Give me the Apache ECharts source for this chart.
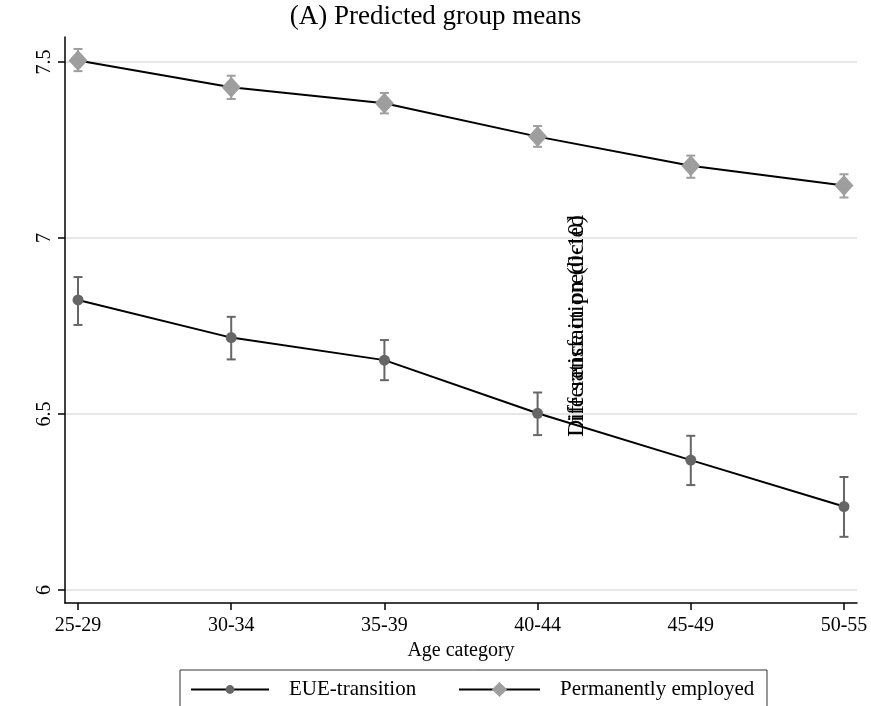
<!DOCTYPE html>
<html>
<head>
<meta charset="utf-8">
<script src="https://cdn.jsdelivr.net/npm/echarts@6/dist/echarts.min.js"></script>
<style>
  html, body { margin: 0; padding: 0; background: #fff; }
  #chart { width: 871px; height: 706px; }
</style>
</head>
<body>
<div id="chart"></div>
<script>
// Age groups on the horizontal axis
const ageCategories = ['25-29', '30-34', '35-39', '40-44', '45-49', '50-55'];

// Predicted life satisfaction, EUE-transition group, with confidence bounds
const eueMean = [6.824, 6.717, 6.653, 6.502, 6.369, 6.237];
const eueLow  = [6.753, 6.655, 6.596, 6.440, 6.298, 6.151];
const eueHigh = [6.889, 6.776, 6.710, 6.561, 6.438, 6.321];

// Predicted life satisfaction, permanently employed group, with confidence bounds
const permMean = [7.504, 7.428, 7.383, 7.288, 7.205, 7.149];
const permLow  = [7.474, 7.395, 7.354, 7.259, 7.171, 7.115];
const permHigh = [7.537, 7.461, 7.412, 7.318, 7.234, 7.181];

// Value axis tick labels
const yTicks = [6, 6.5, 7, 7.5];

const serif = "'Liberation Serif', 'Times New Roman', serif";
const xIndex = ageCategories.map((_, i) => i);

function errorBars(low, high, color) {
  return {
    type: 'custom',
    z: 1,
    silent: true,
    data: low.map((v, i) => [i, v, high[i]]),
    encode: { x: 0, y: [1, 2] },
    renderItem: function (params, api) {
      const lo = api.coord([api.value(0), api.value(1)]);
      const hi = api.coord([api.value(0), api.value(2)]);
      const cap = 4.5;
      const style = { stroke: color, lineWidth: 2, fill: null };
      return {
        type: 'group',
        children: [
          { type: 'line', shape: { x1: lo[0], y1: lo[1], x2: hi[0], y2: hi[1] }, style: style },
          { type: 'line', shape: { x1: lo[0] - cap, y1: lo[1], x2: lo[0] + cap, y2: lo[1] }, style: style },
          { type: 'line', shape: { x1: hi[0] - cap, y1: hi[1], x2: hi[0] + cap, y2: hi[1] }, style: style }
        ]
      };
    }
  };
}

const legendText = { fontFamily: serif, fontSize: 21, color: '#000', padding: [0, 0, 0, 15] };

const chart = echarts.init(document.getElementById('chart'));
chart.setOption({
  backgroundColor: '#ffffff',
  animation: false,
  title: {
    text: '(A) Predicted group means',
    left: 'center',
    top: -2,
    textStyle: { fontFamily: serif, fontSize: 27, fontWeight: 'normal', color: '#000' }
  },
  grid: { left: 65, right: 14, top: 37, bottom: 103 },
  xAxis: {
    type: 'value',
    min: -0.085,
    max: 5.085,
    name: 'Age category',
    nameLocation: 'middle',
    nameGap: 38,
    nameTextStyle: { fontFamily: serif, fontSize: 20, color: '#000' },
    axisLine: { show: true, onZero: false, lineStyle: { color: '#000', width: 1.5 } },
    axisTick: { show: true, length: 7, customValues: xIndex, lineStyle: { color: '#000', width: 1.5 } },
    axisLabel: {
      customValues: xIndex,
      margin: 13,
      fontFamily: serif,
      fontSize: 20,
      color: '#000',
      formatter: v => ageCategories[Math.round(v)]
    },
    splitLine: { show: false }
  },
  yAxis: {
    type: 'value',
    min: 5.963,
    max: 7.571,
    axisLine: { show: true, onZero: false, lineStyle: { color: '#000', width: 1.5 } },
    axisTick: { show: true, length: 7, customValues: yTicks, lineStyle: { color: '#000', width: 1.5 } },
    axisLabel: {
      customValues: yTicks,
      rotate: 90,
      margin: 10,
      fontFamily: serif,
      fontSize: 20,
      color: '#000',
      formatter: v => String(v)
    },
    splitLine: { show: true, lineStyle: { color: '#e6e6e6', width: 2 } }
  },
  legend: [
    {
      left: 190,
      top: 679,
      padding: 0,
      itemWidth: 78,
      itemHeight: 11,
      textStyle: legendText,
      data: ['EUE-transition']
    },
    {
      left: 458,
      top: 679,
      padding: 0,
      itemWidth: 81,
      itemHeight: 19,
      textStyle: legendText,
      data: ['Permanently employed']
    }
  ],
  graphic: [
    {
      type: 'rect',
      shape: { x: 180, y: 670, width: 587, height: 60 },
      style: { fill: null, stroke: '#333', lineWidth: 1 },
      silent: true
    },
    {
      type: 'text',
      x: 577, y: 326,
      rotation: Math.PI / 2,
      style: { text: 'Life satisfaction (0-10)', font: '24px ' + serif, fill: '#000', textAlign: 'center', textVerticalAlign: 'middle' }
    },
    {
      type: 'text',
      x: 577, y: 326,
      rotation: Math.PI / 2,
      style: { text: 'Difference in predicted', font: '24px ' + serif, fill: '#000', textAlign: 'center', textVerticalAlign: 'middle' }
    }
  ],
  series: [
    errorBars(eueLow, eueHigh, '#666666'),
    errorBars(permLow, permHigh, '#9e9e9e'),
    {
      name: 'EUE-transition',
      type: 'line',
      z: 3,
      data: eueMean.map((v, i) => [i, v]),
      symbol: 'circle',
      symbolSize: 11,
      itemStyle: { color: '#666666' },
      lineStyle: { color: '#000', width: 2 }
    },
    {
      name: 'Permanently employed',
      type: 'line',
      z: 3,
      data: permMean.map((v, i) => [i, v]),
      symbol: 'diamond',
      symbolSize: [19, 21],
      itemStyle: { color: '#9e9e9e' },
      lineStyle: { color: '#000', width: 2 }
    }
  ]
});
</script>
</body>
</html>
